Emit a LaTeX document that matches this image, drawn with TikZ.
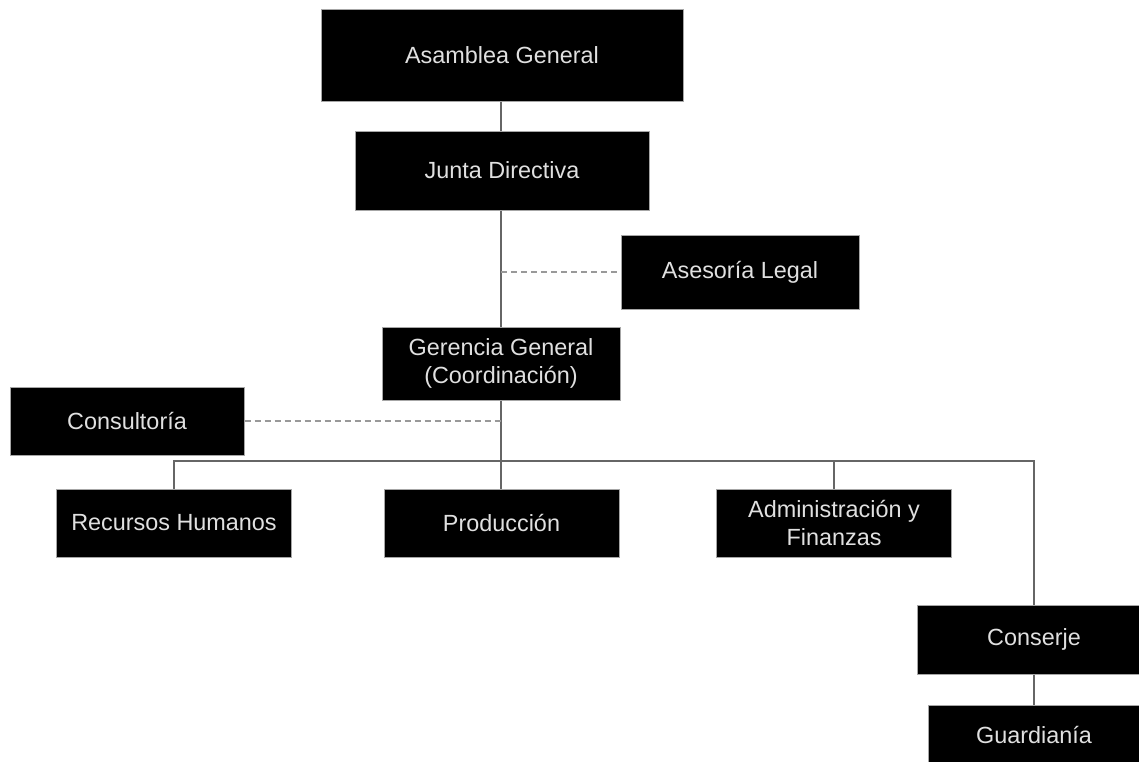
\documentclass[tikz,border=0pt]{standalone}
\usepackage{fontspec}
\setmainfont{Liberation Sans}
\begin{document}
\begin{tikzpicture}[x=0.5pt,y=-0.5pt,
  box/.style={draw=black!35, line width=0.5pt, fill=black, text=black!12, inner sep=0pt,
    font=\fontsize{11.7}{13.6}\selectfont, align=center},
  link/.style={draw=black!60, line width=0.55pt},
  dlink/.style={draw=black!40, line width=0.6pt, dash pattern=on 3pt off 2pt}]
\useasboundingbox (0,0) rectangle (1139,761);
\clip (0,0) rectangle (1139,761);
\fill[white] (0,0) rectangle (1139,761);
\node[box, minimum width=181pt, minimum height=46pt] (asamblea) at (502,55) {Asamblea General};
\node[box, minimum width=147pt, minimum height=39.5pt] (junta) at (502,170.5) {Junta Directiva};
\node[box, minimum width=119pt, minimum height=37pt] (asesoria) at (740,272) {Asesoría Legal};
\node[box, minimum width=119pt, minimum height=36.5pt] (gerencia) at (501,363.5) {Gerencia General\\(Coordinación)};
\node[box, minimum width=117pt, minimum height=34pt] (consultoria) at (127,421) {Consultoría};
\node[box, minimum width=117.5pt, minimum height=34pt] (rrhh) at (174,523) {Recursos Humanos};
\node[box, minimum width=117.5pt, minimum height=34pt] (produccion) at (501.5,523) {Producción};
\node[box, minimum width=117.5pt, minimum height=34pt] (admin) at (834,523) {Administración y\\Finanzas};
\node[box, minimum width=117pt, minimum height=34.5pt] (conserje) at (1034,639.5) {Conserje};
\node[box, minimum width=106pt, minimum height=30pt] (guardiania) at (1034,735) {Guardianía};
\coordinate (legal) at (501,272);
\coordinate (consul) at (501,421);
\coordinate (hub) at (501,461);
\coordinate (bus) at (174,461);
\draw[link] (asamblea.south -| 501,0) -- (junta.north -| 501,0);
\draw[link] (junta.south -| 501,0) -- (gerencia.north);
\draw[link] (gerencia.south) -- (hub);
\draw[dlink] (legal) -- (asesoria.west);
\draw[dlink] (consultoria.east) -- (consul);
\draw[link] (rrhh.north) |- (conserje.north |- hub) -- (conserje.north);
\draw[link] (hub) -- (produccion.north -| hub);
\draw[link] (admin.north) -- (admin.north |- hub);
\draw[link] (conserje.south) -- (guardiania.north);
\end{tikzpicture}
\end{document}
